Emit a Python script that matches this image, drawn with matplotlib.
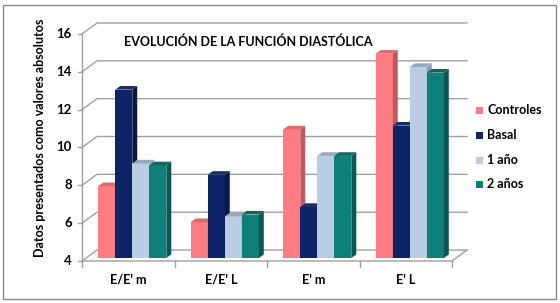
import matplotlib
matplotlib.use("Agg")
import matplotlib.pyplot as plt
from matplotlib.patches import Polygon, Rectangle

plt.rcParams['font.family'] = ['Lato', 'DejaVu Sans']

categories = ["E/E' m", "E/E' L", "E' m", "E' L"]
series_names = ["Controles", "Basal", "1 año", "2 años"]
controles = [7.8, 5.9, 10.8, 14.8]
basal = [12.9, 8.4, 6.7, 11.0]
un_ano = [9.0, 6.2, 9.4, 14.1]
dos_anos = [8.9, 6.3, 9.4, 13.8]
series = [controles, basal, un_ano, dos_anos]
y_ticks = [4, 6, 8, 10, 12, 14, 16]
title = "EVOLUCIÓN DE LA FUNCIÓN DIASTÓLICA"
ylabel = "Datos presentados como valores absolutos"

front_c = ["#FF7C82", "#0E2466", "#B9CDE5", "#0F7F7A"]
side_c = ["#C0585E", "#081848", "#8C9FB7", "#075854"]
top_c = ["#D86A70", "#1A2D66", "#96A8BE", "#0B6864"]

W, H = 560, 303
fig = plt.figure(figsize=(W / 100, H / 100), dpi=100)
fig.patch.set_facecolor("white")

# border
fig.add_artist(Rectangle((3 / W, 4 / H), 553 / W, 294 / H, transform=fig.transFigure,
                         fill=False, edgecolor="#8A8A8A", linewidth=1.0))

ymin, ymax = 4, 16
xmin, xmax = -0.5, 3.5
dx, dy = 0.162, 0.58  # depth offset (category units, value units)

ax = fig.add_axes([82 / W, (H - 261) / H, 385 / W, 238 / H])
ax.set_xlim(xmin, xmax + dx)
ax.set_ylim(ymin, ymax + dy)
ax.axis("off")

grid_col = "#A0A0A0"
# gridlines on left wall and back wall
for v in y_ticks:
    ax.plot([xmin, xmin + dx, xmax + dx], [v, v + dy, v + dy], color=grid_col, lw=1.0,
            clip_on=False, zorder=1)
    ax.plot([xmin - 0.045, xmin], [v, v], color=grid_col, lw=1.0, clip_on=False, zorder=1)
    ax.text(xmin - 0.11, v, str(v), ha="right", va="center", fontsize=9.5,
            fontweight="bold", color="black")
# front axis and floor
ax.plot([xmin, xmin], [ymin, ymax], color=grid_col, lw=1.0, clip_on=False, zorder=1)
ax.plot([xmin, xmax, xmax + dx], [ymin, ymin, ymin + dy], color=grid_col, lw=1.0,
        clip_on=False, zorder=1)
for k in range(len(categories) + 1):
    xt = xmin + k
    ax.plot([xt, xt], [ymin, ymin - 0.3], color=grid_col, lw=1.0, clip_on=False, zorder=1)
for k, c in enumerate(categories):
    ax.text(k, ymin - 1.0, c, ha="center", va="center", fontsize=9, fontweight="bold")

# bars (pseudo 3D)
w = 0.184
f0, f1 = 0.27, 0.6
ddx, ddy = (f1 - f0) * dx, (f1 - f0) * dy
for k in range(len(categories)):
    for i, s in enumerate(series):
        v = s[k]
        x0 = k + (i - 2) * w + f0 * dx
        yb = ymin + f0 * dy
        yt = v + f0 * dy
        ax.add_patch(Rectangle((x0, yb), w, yt - yb, facecolor=front_c[i],
                               edgecolor="none", zorder=3))
        ax.add_patch(Polygon([(x0 + w, yb), (x0 + w, yt), (x0 + w + ddx, yt + ddy),
                              (x0 + w + ddx, yb + ddy)], closed=True,
                             facecolor=side_c[i], edgecolor="none", zorder=3))
        ax.add_patch(Polygon([(x0, yt), (x0 + w, yt), (x0 + w + ddx, yt + ddy),
                              (x0 + ddx, yt + ddy)], closed=True,
                             facecolor=top_c[i], edgecolor="none", zorder=3))

# title
fig.text(124 / W, 1 - 42 / H, title, ha="left", va="center", fontsize=9,
         fontweight="bold")
# y label
fig.text(40 / W, 1 - 138 / H, ylabel, ha="center", va="center", rotation=90,
         fontsize=9, fontweight="bold")

# legend
leg_y = [110, 135, 160, 184]
for i, name in enumerate(series_names):
    fig.add_artist(Rectangle((476 / W, 1 - (leg_y[i] + 3.5) / H), 7 / W, 7 / H,
                             transform=fig.transFigure, facecolor=front_c[i],
                             edgecolor="none"))
    fig.text(487 / W, 1 - leg_y[i] / H, name, ha="left", va="center", fontsize=9,
             fontweight="bold")

fig.savefig("out.png", dpi=100)
